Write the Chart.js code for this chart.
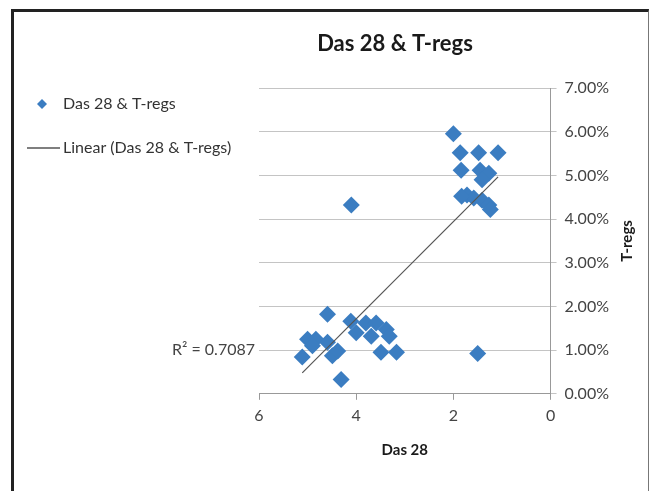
<!DOCTYPE html>
<html>
<head>
<meta charset="utf-8">
<script src="https://cdn.jsdelivr.net/npm/chart.js@4/dist/chart.umd.min.js"></script>
<style>
  html, body { margin: 0; padding: 0; background: #fff; }
  #wrap { position: relative; width: 649px; height: 491px; }
  #frame {
    position: absolute; left: 11px; top: 9px; right: 0; bottom: -4px;
    border-top: 3px solid #222; border-left: 3px solid #222; border-right: 1px solid #777;
    pointer-events: none;
  }
  canvas { position: absolute; left: 0; top: 0; }
</style>
</head>
<body>
<div id="wrap">
  <canvas id="chart" width="649" height="491"></canvas>
  <div id="frame"></div>
</div>
<script>
// Das 28 score (x) vs T-regs % (y)
const das28 = [
  2.0, 1.86, 1.48, 1.08, 1.84, 1.45, 1.27, 1.41, 1.72, 1.58, 1.41, 1.27, 1.24, 1.83,
  1.5, 4.1,
  4.59, 5.11, 5.0, 4.83, 4.9, 4.59, 4.49, 4.38, 4.31, 4.11, 4.0, 3.8, 3.59, 3.69, 3.38, 3.32, 3.49, 3.17
];
const tregs = [
  5.95, 5.52, 5.52, 5.52, 5.12, 5.12, 5.05, 4.9, 4.55, 4.48, 4.43, 4.32, 4.22, 4.52,
  0.92, 4.32,
  1.82, 0.84, 1.25, 1.25, 1.1, 1.18, 0.87, 0.98, 0.33, 1.66, 1.4, 1.62, 1.62, 1.32, 1.47, 1.32, 0.95, 0.95
];
const seriesName = 'Das 28 & T-regs';
const trendName = 'Linear (Das 28 & T-regs)';
const r2Label = 'R\u00B2 = 0.7087';

const FONT = 'Lato, "Open Sans", sans-serif';
const BLUE = '#3B7DC1';

// least squares trendline
const n = das28.length;
const mx = das28.reduce((a, b) => a + b, 0) / n;
const my = tregs.reduce((a, b) => a + b, 0) / n;
let sxy = 0, sxx = 0;
for (let i = 0; i < n; i++) {
  sxy += (das28[i] - mx) * (tregs[i] - my);
  sxx += (das28[i] - mx) ** 2;
}
const slope = sxy / sxx;
const icpt = my - slope * mx;
const xMin = Math.min(...das28), xMax = Math.max(...das28);
const trend = [
  { x: xMax, y: icpt + slope * xMax },
  { x: xMin, y: icpt + slope * xMin }
];

const points = das28.map((x, i) => ({ x, y: tregs[i] }));

// legend, R² label, title and right axis title drawn by hand
const extras = {
  id: 'extras',
  afterDraw(chart) {
    const { ctx, scales } = chart;
    ctx.save();
    // title
    ctx.fillStyle = '#1a1a1a';
    ctx.font = 'bold 22px ' + FONT;
    ctx.textAlign = 'center';
    ctx.textBaseline = 'middle';
    ctx.fillText(seriesName, 395, 44);

    // legend
    ctx.font = '16px ' + FONT;
    ctx.textAlign = 'left';
    ctx.fillStyle = BLUE;
    ctx.beginPath();
    ctx.moveTo(42, 99); ctx.lineTo(47, 104); ctx.lineTo(42, 109); ctx.lineTo(37, 104);
    ctx.closePath(); ctx.fill();
    ctx.fillStyle = '#333';
    ctx.fillText(seriesName, 63, 104);
    ctx.strokeStyle = '#555';
    ctx.lineWidth = 1.5;
    ctx.beginPath(); ctx.moveTo(27, 148); ctx.lineTo(60, 148); ctx.stroke();
    ctx.fillText(trendName, 63, 148);

    // R² next to the start of the trendline
    ctx.textAlign = 'right';
    ctx.fillStyle = '#444';
    ctx.fillText(r2Label, scales.x.getPixelForValue(6) - 4, scales.y.getPixelForValue(1.0));

    // right axis title, reading bottom to top
    ctx.translate(627, (scales.y.top + scales.y.bottom) / 2);
    ctx.rotate(-Math.PI / 2);
    ctx.textAlign = 'center';
    ctx.fillStyle = '#1a1a1a';
    ctx.font = 'bold 15px ' + FONT;
    ctx.fillText('T-regs', 0, 0);
    ctx.restore();
  }
};

new Chart(document.getElementById('chart').getContext('2d'), {
  type: 'scatter',
  data: {
    datasets: [
      {
        label: seriesName,
        data: points,
        pointStyle: 'rectRot',
        pointRadius: 8.5,
        pointHoverRadius: 8.5,
        backgroundColor: BLUE,
        borderColor: BLUE,
        borderWidth: 0,
        order: 2
      },
      {
        label: trendName,
        type: 'line',
        data: trend,
        showLine: true,
        borderColor: '#555',
        borderWidth: 1.2,
        pointRadius: 0,
        fill: false,
        order: 1
      }
    ]
  },
  options: {
    responsive: false,
    animation: false,
    devicePixelRatio: 1,
    layout: { padding: { left: 259, top: 88, right: 32, bottom: 28 } },
    plugins: { legend: { display: false }, title: { display: false }, tooltip: { enabled: false } },
    scales: {
      x: {
        type: 'linear',
        reverse: true,
        min: 0, max: 6,
        ticks: { stepSize: 2, color: '#444', font: { family: FONT, size: 16 }, padding: 6 },
        grid: { drawOnChartArea: false, drawTicks: true, tickLength: 6, color: '#999' },
        border: { color: '#999' },
        title: { display: true, text: 'Das 28', color: '#1a1a1a', font: { family: FONT, size: 15, weight: 'bold' }, padding: { top: 10 } }
      },
      y: {
        position: 'right',
        min: 0, max: 7,
        ticks: { stepSize: 1, color: '#444', font: { family: FONT, size: 16 }, padding: 8,
                 callback: v => v.toFixed(2) + '%' },
        grid: { color: '#c4c4c4', tickLength: 6 },
        border: { color: '#999' }
      }
    }
  },
  plugins: [extras]
});
</script>
</body>
</html>
